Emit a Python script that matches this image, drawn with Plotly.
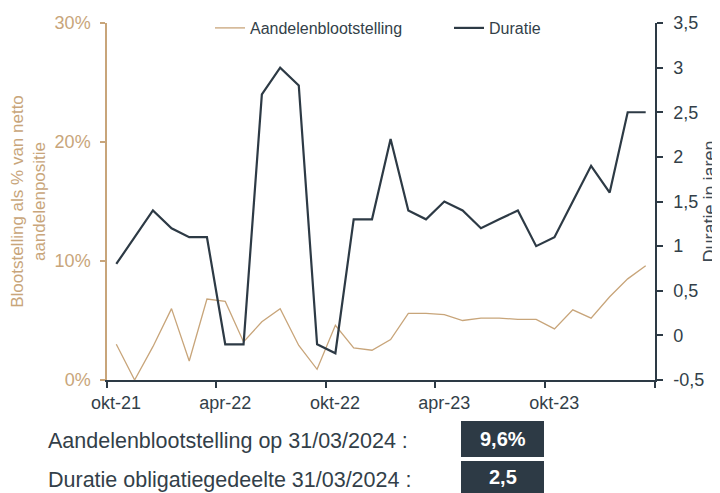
import plotly.graph_objects as go

# ---------------- data ----------------
months = ["2021-10", "2021-11", "2021-12", "2022-01", "2022-02", "2022-03",
          "2022-04", "2022-05", "2022-06", "2022-07", "2022-08", "2022-09",
          "2022-10", "2022-11", "2022-12", "2023-01", "2023-02", "2023-03",
          "2023-04", "2023-05", "2023-06", "2023-07", "2023-08", "2023-09",
          "2023-10", "2023-11", "2023-12", "2024-01", "2024-02", "2024-03"]
equity = [3.0, 0.0, 2.8, 6.0, 1.6, 6.8, 6.6, 3.2, 4.9, 6.0,
          2.9, 0.9, 4.6, 2.7, 2.5, 3.4, 5.6, 5.6, 5.5, 5.0,
          5.2, 5.2, 5.1, 5.1, 4.3, 5.9, 5.2, 7.0, 8.5, 9.6]
duration = [0.8, 1.1, 1.4, 1.2, 1.1, 1.1, -0.1, -0.1, 2.7, 3.0,
            2.8, -0.1, -0.2, 1.3, 1.3, 2.2, 1.4, 1.3, 1.5, 1.4,
            1.2, 1.3, 1.4, 1.0, 1.1, 1.5, 1.9, 1.6, 2.5, 2.5]
x_tick_vals = ["2021-10-01", "2022-04-01", "2022-10-01", "2023-04-01", "2023-10-01", "2024-04-01"]
x_tick_text = ["okt-21", "apr-22", "okt-22", "apr-23", "okt-23", ""]
y2_tick_vals = [-0.5, 0, 0.5, 1, 1.5, 2, 2.5, 3, 3.5]
y2_tick_text = ["-0,5", "0", "0,5", "1", "1,5", "2", "2,5", "3", "3,5"]
y1_tick_vals = [0, 10, 20, 30]
y1_tick_text = ["0%", "10%", "20%", "30%"]

# ---------------- style ----------------
TAN = "#C8A57A"
DARK = "#2D3A45"
TEXT = "#333F49"
FONT = "Liberation Sans, Arial, sans-serif"

# page body adds an 8px offset; compensate so the plot lands where the reference has it
OFF = 8
W, H = 720 - OFF, 493 - OFF
L, T = 107 - OFF, 23 - OFF
PW, PH = 548, 357
R, B = W - L - PW, H - T - PH


def px(xpix):
    # reference-picture pixel -> paper fraction
    return (xpix - OFF - L) / PW


def py(ypix):
    return (T + PH - (ypix - OFF)) / PH


fig = go.Figure()
fig.add_trace(go.Scatter(
    x=months, y=equity, name="Aandelenblootstelling", mode="lines",
    xperiod="M1", xperiodalignment="middle",
    line=dict(color=TAN, width=1.3), yaxis="y"))
fig.add_trace(go.Scatter(
    x=months, y=duration, name="Duratie", mode="lines",
    xperiod="M1", xperiodalignment="middle",
    line=dict(color=DARK, width=2.2), yaxis="y2"))

fig.update_layout(
    width=W, height=H,
    margin=dict(l=L, r=R, t=T, b=B, autoexpand=False),
    paper_bgcolor="white", plot_bgcolor="white",
    font=dict(family=FONT, color=TEXT),
    showlegend=True,
    legend=dict(orientation="h", x=px(210), xanchor="left", y=py(28), yanchor="middle",
                bgcolor="rgba(0,0,0,0)", font=dict(size=16, color=TEXT),
                entrywidth=194, entrywidthmode="pixels", traceorder="normal"),
    xaxis=dict(type="date", range=["2021-10-01", "2024-04-01"], automargin=False,
               tickmode="array", tickvals=x_tick_vals, ticktext=x_tick_text,
               ticks="outside", ticklen=6, tickwidth=1.5, tickcolor=DARK,
               ticklabelshift=9,
               showline=True, linecolor=DARK, linewidth=1.5,
               showgrid=False, zeroline=False,
               tickfont=dict(size=18, color=TEXT)),
    yaxis=dict(range=[0, 30], tickmode="array", tickvals=y1_tick_vals, ticktext=y1_tick_text,
               automargin=False,
               ticks="outside", ticklen=5, tickwidth=1.5, tickcolor=TAN,
               ticklabelstandoff=6,
               showline=True, linecolor=TAN, linewidth=1.5,
               showgrid=False, zeroline=False,
               tickfont=dict(size=18, color=TAN),
               title=dict(text="Blootstelling als % van netto<br>aandelenpositie",
                          font=dict(size=17, color=TAN), standoff=6)),
    yaxis2=dict(range=[-0.5, 3.5], overlaying="y", side="right", automargin=False,
                tickmode="array", tickvals=y2_tick_vals, ticktext=y2_tick_text,
                ticks="outside", ticklen=6, tickwidth=1.5, tickcolor=DARK,
                ticklabelstandoff=7,
                showline=True, linecolor=DARK, linewidth=1.5,
                showgrid=False, zeroline=False,
                tickfont=dict(size=18, color=TEXT),
                title=dict(text="Duratie in jaren", font=dict(size=18, color="#3E4A54"), standoff=18)),
)

# bottom summary rows
eq_txt = f"{equity[-1]:.1f}".replace(".", ",") + "%"
du_txt = f"{duration[-1]:.1f}".replace(".", ",")
rows = [("Aandelenblootstelling op 31/03/2024 :", eq_txt, 421, 457, 441),
        ("Duratie obligatiegedeelte 31/03/2024 :", du_txt, 461, 494, 480)]
for label, val, top, bot, mid in rows:
    fig.add_annotation(xref="paper", yref="paper", x=px(46), y=py(mid),
                       xanchor="left", yanchor="middle", showarrow=False,
                       text=label, font=dict(size=21.5, color=TEXT))
    fig.add_shape(type="rect", xref="paper", yref="paper",
                  x0=px(461), x1=px(544), y0=py(bot), y1=py(top),
                  fillcolor=DARK, line=dict(width=0), layer="above")
    fig.add_annotation(xref="paper", yref="paper", x=px(502.5), y=py((top + bot) / 2),
                       xanchor="center", yanchor="middle", showarrow=False,
                       text=f"<b>{val}</b>", font=dict(size=20, color="white"))

fig.write_html("out.html")
